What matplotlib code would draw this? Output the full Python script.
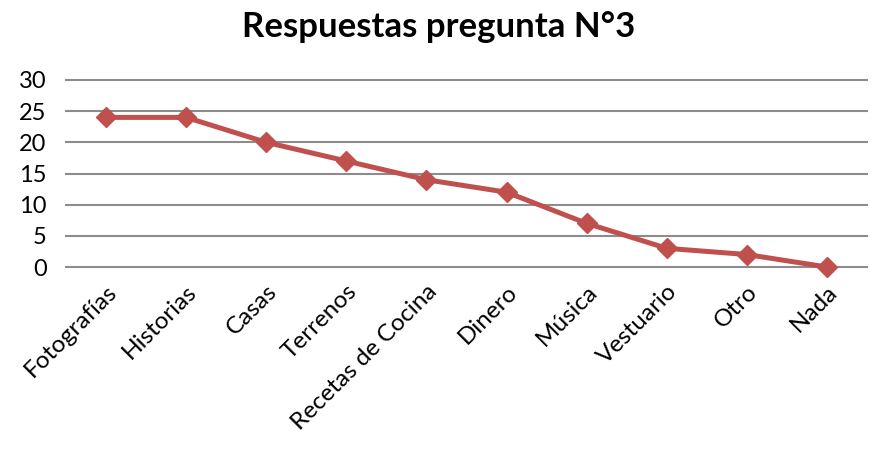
import matplotlib.pyplot as plt

# Data
categorias = ["Fotografías", "Historias", "Casas", "Terrenos", "Recetas de Cocina",
              "Dinero", "Música", "Vestuario", "Otro", "Nada"]
respuestas = [24, 24, 20, 17, 14, 12, 7, 3, 2, 0]
y_ticks = [0, 5, 10, 15, 20, 25, 30]

plt.rcParams['font.family'] = ['Lato', 'DejaVu Sans']

fig = plt.figure(figsize=(8.78, 4.67), dpi=100)
ax = fig.add_axes([66 / 878, 1 - 267 / 467, (867 - 66) / 878, (267 - 80) / 467])

x = list(range(len(categorias)))
ax.plot(x, respuestas, color='#C0504D', linewidth=3.6, marker='D',
        markersize=10, zorder=3, clip_on=False)

ax.set_xlim(-0.5, len(categorias) - 0.5)
ax.set_ylim(0, 30)
ax.set_yticks(y_ticks)
ax.set_yticklabels([str(v) for v in y_ticks], fontsize=17)
ax.set_xticks(x)
ax.set_xticklabels(categorias, fontsize=17.5, rotation=45, ha='right',
                   rotation_mode='anchor')
ax.tick_params(axis='both', length=0)
ax.tick_params(axis='y', pad=14)
ax.tick_params(axis='x', pad=10)

for v in y_ticks:
    ax.axhline(v, color='#8C8C8C', linewidth=1.5, zorder=1, clip_on=False)
for s in ax.spines.values():
    s.set_visible(False)

fig.text(0.5, 1 - 27 / 467, "Respuestas pregunta N°3", ha='center', va='center',
         fontsize=25, fontweight='bold')

plt.savefig("out.png", dpi=100)
plt.close()
